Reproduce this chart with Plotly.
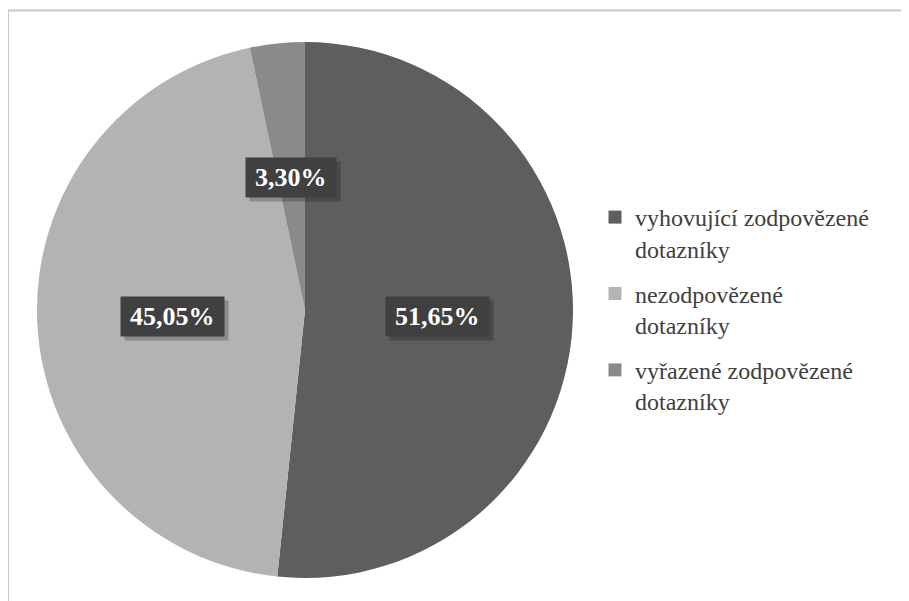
import math
import plotly.graph_objects as go

labels = ["vyhovující zodpovězené<br>dotazníky", "nezodpovězené<br>dotazníky", "vyřazené zodpovězené<br>dotazníky"]
values = [51.65, 45.05, 3.30]
value_texts = ["51,65%", "45,05%", "3,30%"]
colors = ["#5e5e5e", "#b3b3b3", "#8a8a8a"]

W, H = 909, 601
cx, cy, r = 297, 302, 268
dom_x = [(cx - r) / W, (cx + r) / W]
dom_y = [(H - cy - r) / H, (H - cy + r) / H]

fig = go.Figure()
fig.add_trace(go.Pie(
    labels=labels, values=values, sort=False, direction="clockwise", rotation=0,
    marker=dict(colors=colors, line=dict(width=0)),
    textinfo="none", hoverinfo="skip", showlegend=False,
    domain=dict(x=dom_x, y=dom_y),
))

# legend entries (one group each so the gap between entries can be set)
for i, (lab, col) in enumerate(zip(labels, colors)):
    fig.add_trace(go.Scatter(x=[None], y=[None], mode="markers", name=lab,
                             legendgroup=f"g{i}", hoverinfo="skip",
                             marker=dict(symbol="square", size=13, color=col)))

total = sum(values)
cum = 0
for v, t in zip(values, value_texts):
    mid = (cum + v / 2) / total * 2 * math.pi
    cum += v
    rr = 0.496 * r
    px = cx + rr * math.sin(mid)
    py = cy - rr * math.cos(mid)
    tw = sum(26 if ch == "%" else (6.5 if ch == "," else 13) for ch in t)
    bw = tw + 10
    # soft shadow box
    fig.add_annotation(x=(px + 4) / W, y=1 - (py + 4) / H, xref="paper", yref="paper",
                       xanchor="center", yanchor="middle",
                       text=" ", showarrow=False, bgcolor="rgba(0,0,0,0.22)",
                       font=dict(family="Liberation Serif", size=26, color="rgba(0,0,0,0)"),
                       width=bw, height=31, borderpad=4)
    fig.add_annotation(x=px / W, y=1 - py / H, xref="paper", yref="paper",
                       xanchor="center", yanchor="middle",
                       text="<b>" + t + "</b>", showarrow=False, bgcolor="#404040",
                       font=dict(family="Liberation Serif", size=26, color="white"),
                       width=bw, height=31, borderpad=4)

fig.add_shape(type="rect", xref="paper", yref="paper", x0=0, x1=1.2, y0=-0.2, y1=1 - 2.5 / H,
              line=dict(color="#c8c8c8", width=2), fillcolor="rgba(0,0,0,0)", layer="below")

fig.update_layout(
    width=W, height=H, margin=dict(l=0, r=0, t=0, b=0),
    paper_bgcolor="white", plot_bgcolor="white",
    font=dict(family="Liberation Serif", color="#404040"),
    xaxis=dict(visible=False), yaxis=dict(visible=False),
    showlegend=True,
    legend=dict(x=587 / W, y=1 - 187 / H, xanchor="left", yanchor="top", valign="top",
                traceorder="grouped", tracegroupgap=11,
                font=dict(family="Liberation Serif", size=24, color="#404040"),
                itemwidth=30, bgcolor="rgba(0,0,0,0)"),
)

fig.write_html("out.html")
